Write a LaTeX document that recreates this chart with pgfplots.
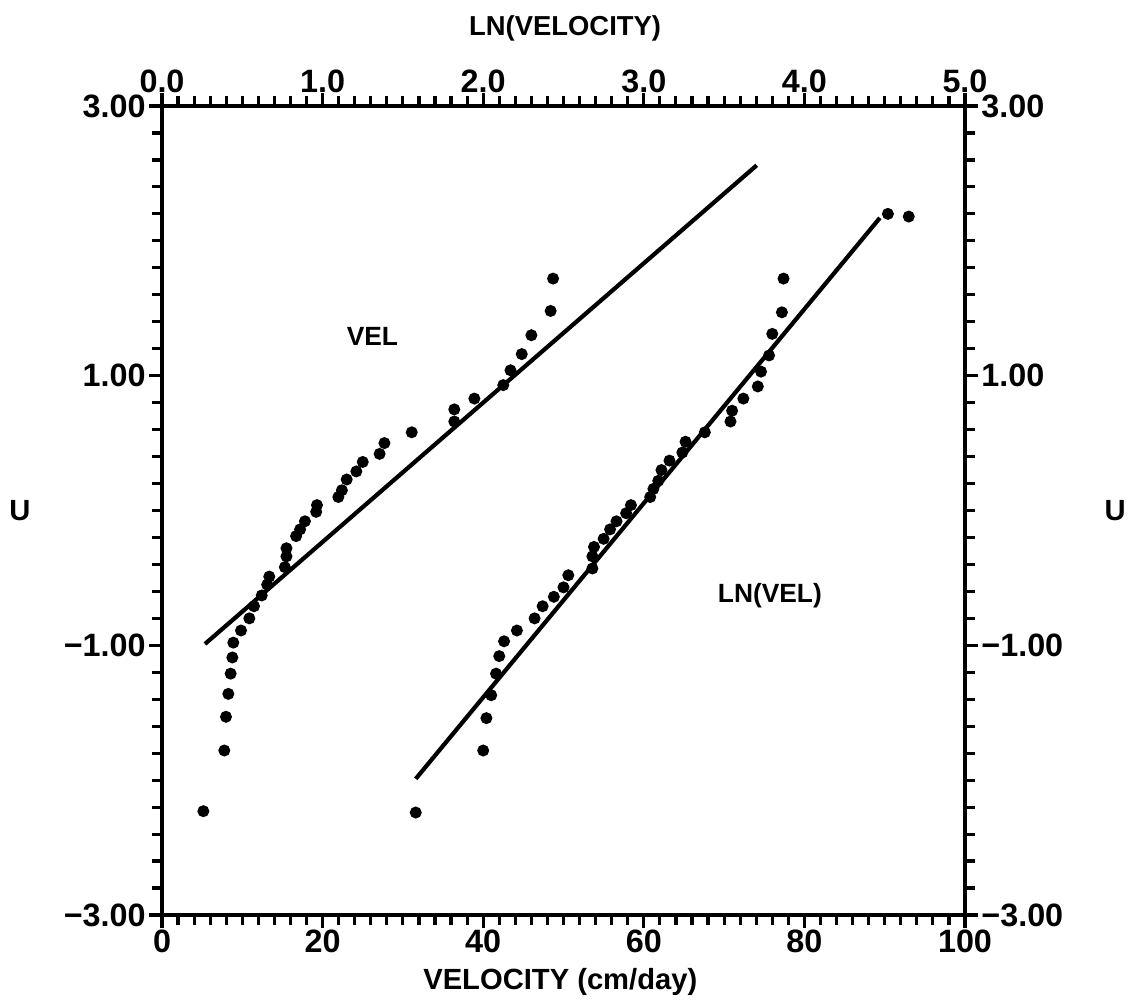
\documentclass[border=0pt]{standalone}
\usepackage{fontspec}
\setmainfont{Liberation Sans}
\usepackage{pgfplots}
\pgfplotsset{compat=1.18}

% velocity (cm/day) vs normal score U
\pgfplotstableread{
x u
5.15 -2.23
7.76 -1.78
7.97 -1.53
8.26 -1.36
8.55 -1.21
8.76 -1.09
8.88 -0.98
9.84 -0.89
10.88 -0.80
11.46 -0.71
12.42 -0.63
13.10 -0.55
13.36 -0.49
15.30 -0.42
15.50 -0.34
15.50 -0.28
16.70 -0.19
17.20 -0.14
17.80 -0.08
19.20 -0.01
19.30 0.04
21.96 0.10
22.40 0.15
23.00 0.23
24.20 0.29
25.00 0.36
27.10 0.42
27.70 0.50
31.10 0.58
36.40 0.66
36.40 0.75
38.90 0.83
42.50 0.93
43.40 1.04
44.80 1.16
46.00 1.30
48.40 1.48
48.70 1.72
}\velData

% ln(velocity) vs U
\pgfplotstableread{
x u
1.58 -2.24
2.00 -1.78
2.02 -1.54
2.05 -1.37
2.08 -1.21
2.10 -1.08
2.13 -0.97
2.21 -0.89
2.32 -0.80
2.37 -0.71
2.44 -0.64
2.50 -0.57
2.53 -0.48
2.68 -0.43
2.68 -0.34
2.69 -0.27
2.75 -0.21
2.79 -0.14
2.83 -0.08
2.89 -0.02
2.92 0.04
3.04 0.10
3.06 0.16
3.09 0.22
3.11 0.30
3.16 0.37
3.24 0.43
3.26 0.51
3.38 0.58
3.54 0.66
3.55 0.74
3.62 0.83
3.71 0.92
3.73 1.03
3.78 1.15
3.80 1.31
3.86 1.47
3.87 1.72
4.52 2.20
4.65 2.18
}\lnData

\begin{document}
\begin{tikzpicture}
\pgfplotsset{
  common/.style={
    at={(0,0)}, anchor=south west,
    width=8.03cm, height=8.09cm, scale only axis,
    ymin=-3, ymax=3,
    ytick={-3,-1,1,3},
    yticklabels={−3.00,−1.00,1.00,3.00},
    minor y tick num=9,
    minor x tick num=9,
    tick align=outside,
    major tick length=0.13cm, minor tick length=0.1cm,
    tick style={black, line width=0.9pt},
    axis line style={line width=1.1pt},
    tick label style={font=\fontsize{9.2}{11}\selectfont\bfseries},
    label style={font=\fontsize{8.3}{10}\selectfont\bfseries},
    /pgf/number format/assume math mode=true,
    clip=false,
  }
}

\begin{axis}[common,
  xmin=0, xmax=100,
  xtick={0,20,...,100},
  xtick pos=bottom, ytick pos=left,
  xticklabel style={yshift=0.11cm},
  yticklabel style={xshift=0.09cm},
  xlabel={VELOCITY (cm/day)},
  xlabel style={at={(rel axis cs:0.496,0)}, anchor=center, yshift=-0.67cm},
  ylabel={U},
  ylabel style={at={(rel axis cs:-0.177,0.5)}, anchor=center, rotate=-90},
]
\addplot[only marks, mark=*, mark size=1.5pt, black] table[x=x, y=u] {\velData};
\addplot[line width=1.2pt, black] coordinates {(5.35,-0.99) (74.06,2.56)};
\node[font=\fontsize{7.5}{9}\selectfont\bfseries] at (axis cs:26.2,1.29) {VEL};
\node[font=\fontsize{7.5}{9}\selectfont\bfseries] at (axis cs:75.7,-0.63) {LN(VEL)};
\end{axis}

\begin{axis}[common,
  xmin=0, xmax=5,
  xtick={0,1,2,3,4,5},
  xticklabels={0.0,1.0,2.0,3.0,4.0,5.0},
  xtick pos=top, xticklabel pos=top,
  ytick pos=right, yticklabel pos=right,
  xticklabel style={yshift=-0.12cm},
  yticklabel style={xshift=-0.09cm},
  xlabel={LN(VELOCITY)},
  xlabel style={at={(rel axis cs:0.502,1)}, anchor=center, yshift=0.78cm,
    font=\fontsize{7.8}{9}\selectfont\bfseries},
  ylabel={U},
  ylabel style={at={(rel axis cs:1.187,0.5)}, anchor=center, rotate=-90},
]
\addplot[only marks, mark=*, mark size=1.5pt, black] table[x=x, y=u] {\lnData};
\addplot[line width=1.2pt, black] coordinates {(1.58,-1.99) (4.47,2.17)};
\end{axis}

\pgfresetboundingbox
\path (-1.62cm,-0.89cm) rectangle (9.78cm,9.15cm);
\end{tikzpicture}
\end{document}
